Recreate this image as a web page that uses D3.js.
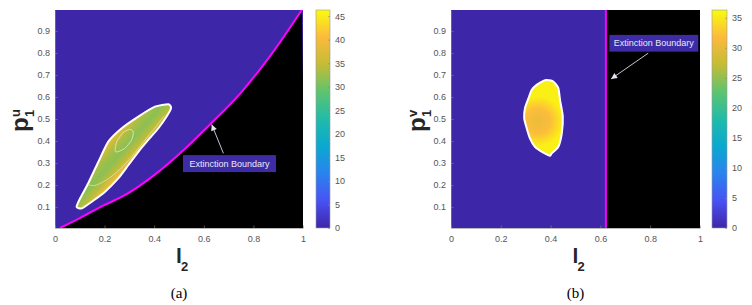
<!DOCTYPE html>
<html>
<head>
<meta charset="utf-8">
<script src="https://cdn.jsdelivr.net/npm/d3@7"></script>
<style>
  body { margin: 0; background: #fff; }
  svg { display: block; }
  .axis text { font-family: 'Liberation Sans', Arial, sans-serif; font-size: 9px; fill: #555; }
  .axis path, .axis line { stroke: #8a8a8a; stroke-width: 0.6; }
  .lab { font-family: 'Liberation Sans', Arial, sans-serif; font-weight: bold; fill: #262626; }
  .cap { font-family: 'Liberation Serif', 'Times New Roman', serif; font-size: 15px; fill: #000; }
  .note { font-family: 'Liberation Sans', Arial, sans-serif; font-size: 9px; fill: #e8e8f4; }
</style>
</head>
<body>
<svg id="fig" width="752" height="305"></svg>
<script>
/* global d3 */

// ---- values ----
var xTicks = [0, 0.2, 0.4, 0.6, 0.8, 1]
var yTicks = [0.1, 0.2, 0.3, 0.4, 0.5, 0.6, 0.7, 0.8, 0.9]
var yDomain = [0.005, 0.995]

var cbTicksA = [0, 5, 10, 15, 20, 25, 30, 35, 40, 45]
var cbMaxA = 46.3
var cbTicksB = [0, 5, 10, 15, 20, 25, 30, 35]
var cbMaxB = 36.3

// extinction boundary (a): [l2, p1u]
var boundaryA = [
  [0.02, 0.005], [0.1, 0.05], [0.2, 0.11], [0.27, 0.147], [0.4, 0.245],
  [0.51, 0.35], [0.62, 0.47], [0.75, 0.62], [0.87, 0.79], [0.995, 0.995]
]
// extinction boundary (b): l2
var boundaryB = 0.622

// coexistence region (a) outline
var blobA = [
  [0.087, 0.101], [0.101, 0.139], [0.134, 0.208], [0.175, 0.306], [0.215, 0.397],
  [0.269, 0.458], [0.336, 0.511], [0.403, 0.556], [0.457, 0.567], [0.468, 0.549],
  [0.450, 0.511], [0.417, 0.458], [0.376, 0.405], [0.336, 0.351], [0.296, 0.291],
  [0.255, 0.230], [0.202, 0.170], [0.148, 0.124], [0.108, 0.094]
]
// inner contour lines of (a)
var contourA1 = [
  [0.242, 0.355], [0.249, 0.397], [0.275, 0.439], [0.302, 0.453],
  [0.316, 0.442], [0.309, 0.405], [0.282, 0.367], [0.253, 0.351]
]
var contourA2 = [
  [0.128, 0.205], [0.16, 0.198], [0.21, 0.225], [0.26, 0.27], [0.31, 0.33],
  [0.36, 0.4], [0.41, 0.47], [0.44, 0.515]
]
// values across region (a), from upper-left edge to lower-right edge
var shadeA = [37, 33, 31.5, 34, 40.5, 45]

// coexistence region (b) outline
var blobB = [
  [0.384, 0.677], [0.411, 0.670], [0.431, 0.640], [0.438, 0.586], [0.449, 0.511],
  [0.445, 0.435], [0.431, 0.374], [0.404, 0.344], [0.398, 0.333], [0.371, 0.347],
  [0.337, 0.374], [0.317, 0.412], [0.304, 0.458], [0.294, 0.503], [0.297, 0.549],
  [0.311, 0.594], [0.324, 0.632], [0.344, 0.655], [0.371, 0.673]
]
// values from the centre of region (b) outwards
var shadeB = [30.5, 32, 35.5]

// parula-like colour map
var parulaColors = ['#3e26a8', '#4852f4', '#2a83ee', '#0aa8d0', '#21bba9',
  '#5ec46f', '#c4bc35', '#fcba3d', '#f9fb0e']

var svg = d3.select('#fig')
var defs = svg.append('defs')

defs.append('marker')
  .attr('id', 'head')
  .attr('viewBox', '0 0 10 10')
  .attr('refX', 10).attr('refY', 5)
  .attr('markerWidth', 7).attr('markerHeight', 6)
  .attr('markerUnits', 'userSpaceOnUse')
  .attr('orient', 'auto')
  .append('path')
  .attr('d', 'M0,0L10,5L0,10z')
  .attr('fill', '#e4e4f2')

function parula (max) {
  return d3.scaleLinear()
    .domain(d3.range(parulaColors.length).map(function (i) { return i * max / (parulaColors.length - 1) }))
    .range(parulaColors)
}

function panel (cfg) {
  var x = d3.scaleLinear().domain([0, 1]).range([cfg.left, cfg.right])
  var y = d3.scaleLinear().domain(yDomain).range([cfg.bottom, cfg.top])
  var color = parula(cfg.cbMax)
  var id = cfg.id

  defs.append('clipPath').attr('id', 'clip' + id)
    .append('rect')
    .attr('x', cfg.left).attr('y', cfg.top)
    .attr('width', cfg.right - cfg.left).attr('height', cfg.bottom - cfg.top)

  var g = svg.append('g').attr('clip-path', 'url(#clip' + id + ')')

  g.append('rect')
    .attr('x', cfg.left).attr('y', cfg.top)
    .attr('width', cfg.right - cfg.left).attr('height', cfg.bottom - cfg.top)
    .attr('fill', color(0))

  cfg.drawRegion(g, x, y, color)

  // axes
  svg.append('g')
    .attr('class', 'axis')
    .attr('transform', 'translate(0,' + cfg.bottom + ')')
    .call(d3.axisBottom(x).tickValues(xTicks).tickFormat(d3.format('~g'))
      .tickSizeInner(-2.5).tickSizeOuter(0).tickPadding(8))

  svg.append('g')
    .attr('class', 'axis')
    .attr('transform', 'translate(' + cfg.left + ',0)')
    .call(d3.axisLeft(y).tickValues(yTicks).tickFormat(d3.format('.1f'))
      .tickSizeInner(-2.5).tickSizeOuter(0).tickPadding(5))

  // colour bar
  var cb = d3.scaleLinear().domain([0, cfg.cbMax]).range([cfg.bottom, cfg.top])
  var grad = defs.append('linearGradient')
    .attr('id', 'cb' + id)
    .attr('x1', '0%').attr('y1', '100%')
    .attr('x2', '0%').attr('y2', '0%')
  grad.selectAll('stop')
    .data(d3.range(0, 1.0001, 0.025))
    .enter().append('stop')
    .attr('offset', function (d) { return d })
    .attr('stop-color', function (d) { return color(d * cfg.cbMax) })

  svg.append('rect')
    .attr('x', cfg.cbLeft).attr('y', cfg.top)
    .attr('width', cfg.cbWidth).attr('height', cfg.bottom - cfg.top)
    .attr('fill', 'url(#cb' + id + ')')
    .attr('stroke', '#9a9a9a').attr('stroke-width', 0.6)

  var cbAxis = svg.append('g')
    .attr('class', 'axis')
    .attr('transform', 'translate(' + (cfg.cbLeft + cfg.cbWidth) + ',0)')
    .call(d3.axisRight(cb).tickValues(cfg.cbTicks)
      .tickSizeInner(-2).tickSizeOuter(0).tickPadding(5))
  cbAxis.select('.domain').remove()

  // y label: p with super/sub script, rotated
  var yl = svg.append('g')
    .attr('transform', 'translate(' + cfg.ylabX + ',' + cfg.ylabY + ') rotate(-90)')
  yl.append('text').attr('class', 'lab').attr('font-size', 24).attr('x', 0).attr('y', 0).text('p')
  yl.append('text').attr('class', 'lab').attr('font-size', 13).attr('x', 15).attr('y', -8).text(cfg.sup)
  yl.append('text').attr('class', 'lab').attr('font-size', 13).attr('x', 15).attr('y', 6).text('1')

  // x label: l with subscript 2
  var cx = (cfg.left + cfg.right) / 2
  svg.append('text').attr('class', 'lab').attr('font-size', 21)
    .attr('x', cx - 3).attr('y', 263).text('l')
  svg.append('text').attr('class', 'lab').attr('font-size', 13)
    .attr('x', cx + 2).attr('y', 271).text('2')

  // caption
  svg.append('text').attr('class', 'cap')
    .attr('x', cx).attr('y', 298)
    .attr('text-anchor', 'middle')
    .text(cfg.caption)

  // annotation
  var n = cfg.note
  svg.append('line')
    .attr('x1', x(n.from[0])).attr('y1', y(n.from[1]))
    .attr('x2', x(n.tip[0])).attr('y2', y(n.tip[1]))
    .attr('stroke', '#d8d8ec').attr('stroke-width', 0.9)
    .attr('marker-end', 'url(#head)')
  svg.append('rect')
    .attr('x', x(n.box[0])).attr('y', y(n.box[3]))
    .attr('width', x(n.box[2]) - x(n.box[0]))
    .attr('height', y(n.box[1]) - y(n.box[3]))
    .attr('fill', '#3d2ca6')
  svg.append('text').attr('class', 'note')
    .attr('x', (x(n.box[0]) + x(n.box[2])) / 2)
    .attr('y', (y(n.box[1]) + y(n.box[3])) / 2 + 3)
    .attr('text-anchor', 'middle')
    .text('Extinction Boundary')
}

// ---- panel (a) ----
panel({
  id: 'a',
  left: 55, right: 303, top: 10, bottom: 228,
  cbLeft: 316, cbWidth: 14,
  cbMax: cbMaxA, cbTicks: cbTicksA,
  ylabX: 28, ylabY: 132, sup: 'u',
  caption: '(a)',
  note: { from: [0.679, 0.344], tip: [0.632, 0.475], box: [0.516, 0.259, 0.891, 0.336] },
  drawRegion: function (g, x, y, color) {
    var below = boundaryA.concat([[1.01, yDomain[0] - 0.01], [0, yDomain[0] - 0.01]])
    g.append('path')
      .attr('d', d3.line().x(function (d) { return x(d[0]) }).y(function (d) { return y(d[1]) })(below))
      .attr('fill', '#000')

    var grad = defs.append('linearGradient')
      .attr('id', 'shadeA')
      .attr('gradientUnits', 'userSpaceOnUse')
      .attr('x1', x(0.22)).attr('y1', y(0.39))
      .attr('x2', x(0.33)).attr('y2', y(0.28))
    grad.selectAll('stop')
      .data(shadeA)
      .enter().append('stop')
      .attr('offset', function (d, i) { return i / (shadeA.length - 1) })
      .attr('stop-color', function (d) { return color(d) })

    var closed = d3.line().x(function (d) { return x(d[0]) }).y(function (d) { return y(d[1]) })
      .curve(d3.curveCardinalClosed.tension(0.4))
    g.append('path')
      .attr('d', closed(blobA))
      .attr('fill', 'url(#shadeA)')
      .attr('stroke', '#fff').attr('stroke-width', 2)

    g.append('path')
      .attr('d', closed(contourA1))
      .attr('fill', 'none')
      .attr('stroke', '#e8f4d8').attr('stroke-width', 0.7)
    g.append('path')
      .attr('d', d3.line().x(function (d) { return x(d[0]) }).y(function (d) { return y(d[1]) })
        .curve(d3.curveCardinal)(contourA2))
      .attr('fill', 'none')
      .attr('stroke', '#f0f0c8').attr('stroke-width', 0.7).attr('stroke-opacity', 0.8)

    g.append('path')
      .attr('d', d3.line().x(function (d) { return x(d[0]) }).y(function (d) { return y(d[1]) })
        .curve(d3.curveMonotoneX)(boundaryA))
      .attr('fill', 'none')
      .attr('stroke', '#ff00ff').attr('stroke-width', 2)
  }
})

// ---- panel (b) ----
panel({
  id: 'b',
  left: 451, right: 700, top: 10, bottom: 228,
  cbLeft: 712, cbWidth: 15,
  cbMax: cbMaxB, cbTicks: cbTicksB,
  ylabX: 425, ylabY: 132, sup: 'v',
  caption: '(b)',
  note: { from: [0.792, 0.799], tip: [0.643, 0.682], box: [0.636, 0.806, 0.993, 0.882] },
  drawRegion: function (g, x, y, color) {
    g.append('rect')
      .attr('x', x(boundaryB)).attr('y', y(yDomain[1]))
      .attr('width', x(1) - x(boundaryB)).attr('height', y(yDomain[0]) - y(yDomain[1]))
      .attr('fill', '#000')

    var grad = defs.append('radialGradient')
      .attr('id', 'shadeB')
      .attr('gradientUnits', 'userSpaceOnUse')
      .attr('cx', x(0.35)).attr('cy', y(0.49))
      .attr('r', x(0.45) - x(0.35))
    grad.selectAll('stop')
      .data(shadeB)
      .enter().append('stop')
      .attr('offset', function (d, i) { return i / (shadeB.length - 1) })
      .attr('stop-color', function (d) { return color(d) })

    g.append('path')
      .attr('d', d3.line().x(function (d) { return x(d[0]) }).y(function (d) { return y(d[1]) })
        .curve(d3.curveCardinalClosed.tension(0.4))(blobB))
      .attr('fill', 'url(#shadeB)')
      .attr('stroke', '#fff').attr('stroke-width', 2)

    g.append('line')
      .attr('x1', x(boundaryB)).attr('x2', x(boundaryB))
      .attr('y1', y(yDomain[0])).attr('y2', y(yDomain[1]))
      .attr('stroke', '#ff00ff').attr('stroke-width', 2)
  }
})
</script>
</body>
</html>
